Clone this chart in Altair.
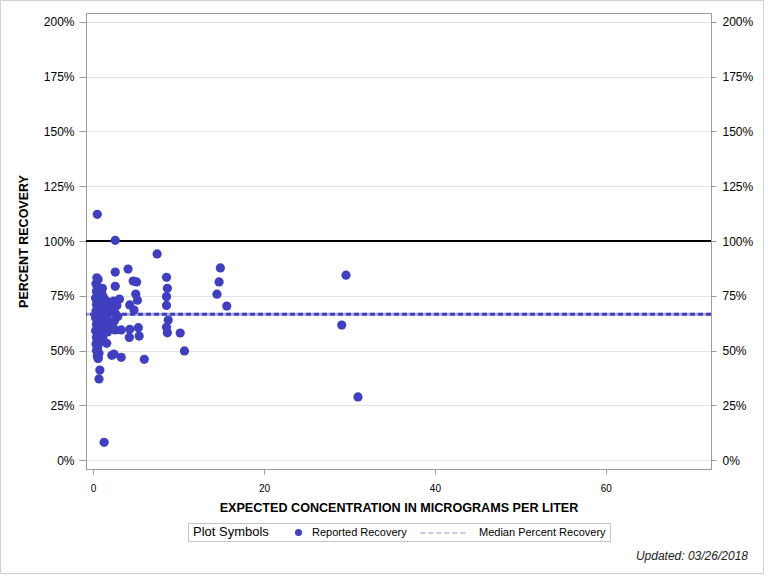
import altair as alt
import pandas as pd

# ---------------- data ----------------
rep_x = [
    0.5, 2.6, 7.5, 2.6, 4.1, 0.45, 0.6, 4.7, 5.1, 8.6, 2.6, 1.1, 8.7, 5.0, 5.2, 8.6,
    3.1, 4.3, 4.8, 8.6, 14.5, 14.75, 14.9, 15.65, 8.8, 8.6, 8.7, 10.2, 10.7, 5.3, 5.4,
    4.3, 4.25, 2.6, 3.3, 2.45, 3.3, 2.2, 6.0, 1.6, 0.7, 0.6, 0.8, 0.7, 1.3, 29.6, 29.1, 31.0,
    0.35, 0.5, 0.4, 0.55, 0.3, 0.5, 0.4, 0.6, 0.35, 0.5, 0.3, 0.55, 0.4, 0.5, 0.3, 0.6,
    0.4, 0.5, 0.35, 0.55, 0.4, 0.5, 0.6,
    1.0, 1.2, 0.9, 1.3, 0.8, 1.1, 1.25, 0.9, 1.2, 1.0, 0.85, 1.3, 1.0, 1.15, 0.9,
    1.6, 1.8, 1.5, 1.9, 1.6, 1.75, 1.5, 2.0, 1.7,
    2.4, 2.8, 2.3, 2.6, 2.9, 2.5, 2.2,
]
rep_y = [
    112.2, 100.3, 94.1, 85.8, 87.2, 83.2, 82.4, 81.7, 81.3, 83.4, 79.3, 78.4, 78.4, 75.8, 73.0, 74.6,
    73.5, 70.8, 68.5, 70.6, 75.7, 81.3, 87.7, 70.3, 63.9, 60.6, 58.1, 58.0, 49.8, 60.4, 56.6,
    59.7, 56.0, 59.4, 59.4, 48.4, 46.9, 47.8, 46.0, 53.3, 48.7, 46.4, 41.1, 37.0, 8.1, 84.4, 61.6, 28.8,
    80.5, 79.0, 77.0, 75.5, 74.0, 72.5, 71.0, 69.5, 68.0, 66.5, 65.0, 63.5, 62.0, 60.5, 59.0, 57.5,
    56.0, 54.5, 53.0, 51.5, 50.0, 47.5, 46.5,
    76.5, 74.5, 73.0, 71.5, 70.0, 68.5, 67.0, 65.5, 64.0, 62.5, 61.0, 59.5, 58.0, 56.0, 54.0,
    72.5, 71.0, 69.0, 67.5, 66.0, 64.0, 62.5, 61.0, 58.5,
    72.5, 70.5, 69.0, 67.0, 65.5, 63.5, 61.5,
]
reference_line = [100]
median_line = [66.6]
y_ticks = [0, 25, 50, 75, 100, 125, 150, 175, 200]
x_ticks = [0, 20, 40, 60]
series_points = "Reported Recovery"
series_median = "Median Percent Recovery"

pts = pd.DataFrame({"conc": rep_x, "pct": rep_y, "sym": series_points})
med = pd.DataFrame({"pct": median_line, "line": series_median})
ref = pd.DataFrame({"pct": reference_line})
one = pd.DataFrame({"k": [0]})

FONT = "Liberation Sans"
GRAY = "#9c9c9c"
BLUE = "#3f3fbf"

xs = alt.Scale(domain=[-0.82, 72.3], nice=False, zero=False)
ys = alt.Scale(domain=[-4.1, 204.1], nice=False, zero=False)

left_axis = alt.Axis(
    orient="left", values=y_ticks, labelExpr="datum.value + '%'",
    grid=True, gridColor="#e3e3e3", tickSize=7, labelPadding=5, labelFontSize=12,
    title="PERCENT RECOVERY", titleFontSize=12.5, titleFontWeight="bold", titlePadding=13,
)
right_axis = alt.Axis(
    orient="right", values=y_ticks, labelExpr="datum.value + '%'",
    grid=False, tickSize=5, labelPadding=6, labelFontSize=12, title=None,
)
x_axis = alt.Axis(
    values=x_ticks, grid=False, tickSize=5, labelPadding=9, labelFontSize=10,
    title="EXPECTED CONCENTRATION IN MICROGRAMS PER LITER",
    titleFontSize=12.6, titleFontWeight="bold", titlePadding=8,
)

ref_layer = alt.Chart(ref).mark_rule(color="black", strokeWidth=2).encode(
    y=alt.Y("pct:Q", scale=ys, axis=left_axis)
)
med_under = alt.Chart(med).mark_rule(color="#a9a9dc", strokeWidth=3).encode(
    y=alt.Y("pct:Q", scale=ys, axis=right_axis)
)
med_dash = alt.Chart(med).mark_rule(color=BLUE, strokeWidth=3).encode(
    y=alt.Y("pct:Q", scale=ys, axis=None),
    strokeDash=alt.StrokeDash(
        "line:N",
        scale=alt.Scale(domain=[series_median], range=[[5, 3]]),
        legend=alt.Legend(
            title=None, orient="none", legendX=334, legendY=496, direction="horizontal",
            symbolType="stroke", symbolSize=2209, symbolStrokeWidth=1,
            symbolStrokeColor="#8f8fd8", labelFontSize=11, labelColor="black",
            labelOffset=11, padding=0,
        ),
    ),
)
points = alt.Chart(pts).mark_circle(size=85, opacity=1).encode(
    x=alt.X("conc:Q", scale=xs, axis=x_axis),
    y=alt.Y("pct:Q", scale=ys, axis=None),
    color=alt.Color(
        "sym:N",
        scale=alt.Scale(domain=[series_points], range=[BLUE]),
        legend=alt.Legend(
            title="Plot Symbols", orient="none", legendX=107, legendY=514,
            direction="horizontal", titleOrient="left", titleFontSize=13,
            titleFontWeight="normal", titleColor="black", titlePadding=24,
            labelFontSize=11, labelColor="black", symbolSize=50, symbolType="circle",
            labelOffset=8, padding=0,
        ),
    ),
)

legend_box = alt.Chart(one).mark_rect(fill="white", fillOpacity=0, stroke="#c4c4c4", strokeWidth=1).encode(
    x=alt.value(102.5), x2=alt.value(524.5), y=alt.value(510.5), y2=alt.value(528.5)
)
outer_box = alt.Chart(one).mark_rect(fill="white", fillOpacity=0, stroke="#d0d0d0", strokeWidth=1).encode(
    x=alt.value(-85.5), x2=alt.value(677.5), y=alt.value(-12.5), y2=alt.value(560.5)
)
updated = alt.Chart(one).mark_text(
    text="Updated: 03/26/2018", font=FONT, fontSize=12, fontStyle="italic",
    align="right", baseline="alphabetic", color="#222222",
).encode(x=alt.value(662), y=alt.value(547))

chart = (
    alt.layer(ref_layer, med_under, med_dash, points, legend_box, outer_box, updated)
    .resolve_axis(y="independent")
    .properties(
        width=625, height=456,
        autosize=alt.AutoSizeParams(type="none"),
        padding={"left": 86, "top": 13, "right": 57, "bottom": 107},
        background="white",
    )
    .configure_view(stroke=GRAY, strokeWidth=1)
    .configure_axis(
        domainColor=GRAY, tickColor=GRAY, labelColor="black", titleColor="black",
        labelFont=FONT, titleFont=FONT,
    )
    .configure_legend(labelFont=FONT, titleFont=FONT)
    .configure_text(font=FONT)
)

chart.save("out.html", embed_options={"renderer": "svg", "actions": False})
